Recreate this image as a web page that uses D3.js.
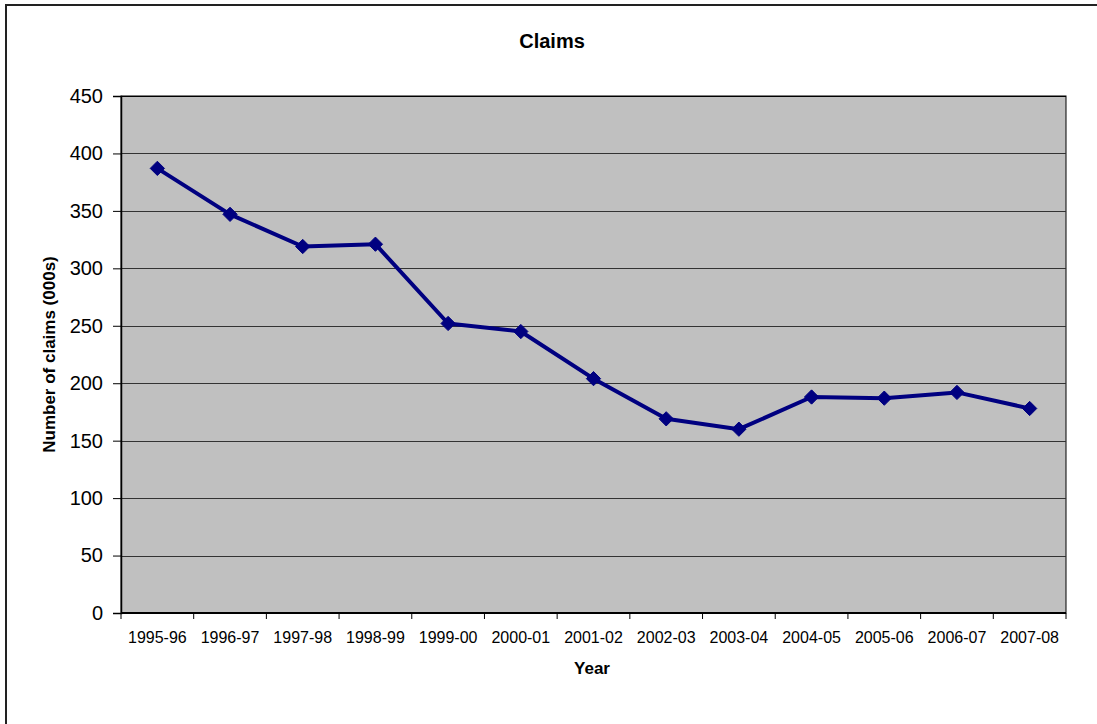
<!DOCTYPE html>
<html>
<head>
<meta charset="utf-8">
<script src="https://cdn.jsdelivr.net/npm/d3@7"></script>
<style>
  body { margin: 0; background: #fff; }
  svg { display: block; font-family: "Liberation Sans", Arial, sans-serif; }
</style>
</head>
<body>
<div id="chart"></div>
<script>
const years = ['1995-96', '1996-97', '1997-98', '1998-99', '1999-00', '2000-01', '2001-02',
  '2002-03', '2003-04', '2004-05', '2005-06', '2006-07', '2007-08'];
const claims = [387, 347, 319, 321, 252, 245, 204, 169, 160, 188, 187, 192, 178];
const yTicks = [0, 50, 100, 150, 200, 250, 300, 350, 400, 450];

const width = 1097, height = 724;
const margin = { top: 96, right: 31, bottom: 111, left: 121 };
const plotW = width - margin.left - margin.right;
const plotH = height - margin.top - margin.bottom;

const svg = d3.select('#chart').append('svg')
  .attr('width', width)
  .attr('height', height);

// outer chart frame (only top and left edges fall inside the picture)
svg.append('rect')
  .attr('x', 6).attr('y', 5)
  .attr('width', width + 10).attr('height', height + 10)
  .attr('fill', 'none')
  .attr('stroke', '#222')
  .attr('stroke-width', 2);

const x = d3.scaleBand().domain(years).range([0, plotW]);
const y = d3.scaleLinear().domain([0, 450]).range([plotH, 0]);

const g = svg.append('g').attr('transform', `translate(${margin.left},${margin.top})`);

g.append('rect')
  .attr('width', plotW).attr('height', plotH)
  .attr('fill', '#c0c0c0')
  .attr('stroke', '#000')
  .attr('stroke-width', 1);

g.selectAll('.grid')
  .data(yTicks.slice(1))
  .enter().append('line')
  .attr('x1', 0).attr('x2', plotW)
  .attr('y1', d => Math.round(y(d)) + 0.5).attr('y2', d => Math.round(y(d)) + 0.5)
  .attr('stroke', d => d === 450 ? '#000' : '#333')
  .attr('stroke-width', 1);

// y axis
const yAxis = g.append('g')
  .call(d3.axisLeft(y).tickValues(yTicks).tickSize(8).tickPadding(10));
yAxis.select('.domain').attr('stroke', '#000').attr('stroke-width', 1.5);
yAxis.selectAll('.tick line').attr('stroke', '#000');
yAxis.selectAll('text')
  .attr('font-size', 20)
  .attr('fill', '#000')
  .attr('font-family', '"Liberation Sans", Arial, sans-serif');

// x axis with ticks at category boundaries
const xAxis = g.append('g').attr('transform', `translate(0,${plotH})`);
xAxis.append('line')
  .attr('x1', 0).attr('x2', plotW)
  .attr('y1', 0).attr('y2', 0)
  .attr('stroke', '#000').attr('stroke-width', 2);
xAxis.selectAll('.xtick')
  .data(years.concat(['end']))
  .enter().append('line')
  .attr('x1', (d, i) => i < years.length ? x(d) : plotW)
  .attr('x2', (d, i) => i < years.length ? x(d) : plotW)
  .attr('y1', 0).attr('y2', 6)
  .attr('stroke', '#000');
xAxis.selectAll('.xlabel')
  .data(years)
  .enter().append('text')
  .attr('x', d => x(d) + x.bandwidth() / 2)
  .attr('y', 30)
  .attr('text-anchor', 'middle')
  .attr('font-size', 16)
  .attr('fill', '#000')
  .text(d => d);

// line + markers
const line = d3.line()
  .x((d, i) => x(years[i]) + x.bandwidth() / 2)
  .y(d => y(d));

g.append('path')
  .datum(claims)
  .attr('d', line)
  .attr('fill', 'none')
  .attr('stroke', '#000080')
  .attr('stroke-width', 4)
  .attr('stroke-linejoin', 'round');

g.selectAll('.marker')
  .data(claims)
  .enter().append('path')
  .attr('transform', (d, i) => `translate(${x(years[i]) + x.bandwidth() / 2},${y(d)})`)
  .attr('d', d3.symbol().type(d3.symbolDiamond2).size(130))
  .attr('fill', '#000080')
  .attr('stroke', '#000080')
  .attr('stroke-width', 1);

// titles
svg.append('text')
  .attr('x', 552).attr('y', 48)
  .attr('text-anchor', 'middle')
  .attr('font-size', 20)
  .attr('font-weight', 'bold')
  .text('Claims');

svg.append('text')
  .attr('x', 592).attr('y', 674)
  .attr('text-anchor', 'middle')
  .attr('font-size', 17)
  .attr('font-weight', 'bold')
  .text('Year');

svg.append('text')
  .attr('transform', `translate(55,${margin.top + plotH / 2}) rotate(-90)`)
  .attr('text-anchor', 'middle')
  .attr('font-size', 17)
  .attr('font-weight', 'bold')
  .text('Number of claims (000s)');
</script>
</body>
</html>
